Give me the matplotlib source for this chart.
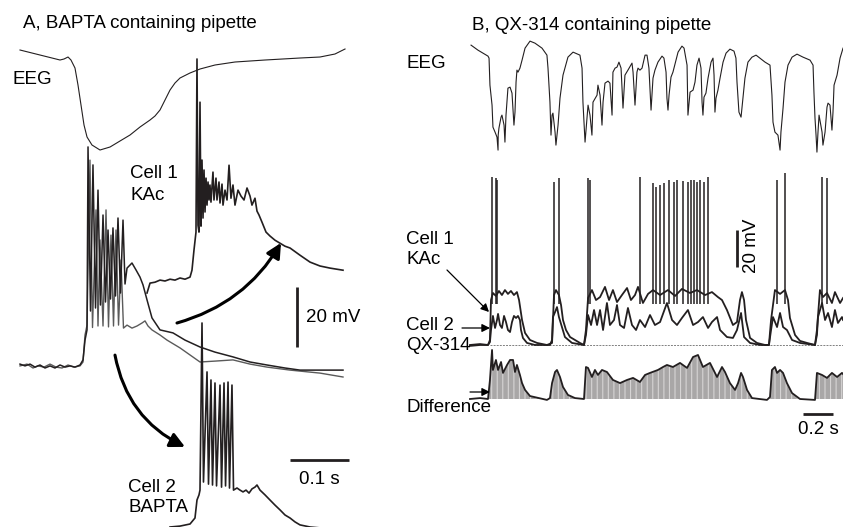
import numpy as np
import matplotlib.pyplot as plt
from matplotlib.patches import FancyArrowPatch

plt.rcParams['font.family'] = ['Liberation Sans', 'DejaVu Sans']
plt.rcParams['hatch.linewidth'] = 0.8

W, H = 843, 527
INK = '#231f20'

# ---------------- panel A : time in ms, cells in mV (rel. to rest), EEG in a.u.
a_eeg_t = [0, 33.9, 67.8, 74.6, 81.4, 86.4, 93.2, 98.3, 103.4, 108.5, 113.6, 122.0,
           135.6, 152.6, 169.5, 186.5, 203.4, 220.4, 228.8, 237.3, 245.8, 254.3, 262.7,
           271.2, 288.1, 305.1, 330.5, 364.4, 415.3, 474.6, 508.5, 533.9, 550.9]
a_eeg = [0, -5, -10, -9, -7, -10, -18, -35, -55, -75, -87, -95, -100, -97, -91, -85,
         -77, -70, -66, -60, -50, -40, -33, -28, -23, -19, -15, -12, -10, -8, -7, -4, 1]

a_cell1_t = [0, 8.5, 17.0, 25.4, 33.9, 42.4, 50.9, 59.3, 67.8, 76.3, 84.8, 93.2, 101.7,
             106.8, 110.2, 113.6, 115.3, 119.5, 123.7, 128.0, 132.2, 136.4, 140.7, 144.9,
             149.2, 153.4, 157.6, 161.9, 166.1, 170.3, 174.6, 178.0, 181.4, 189.8,
             196.6, 203.4, 208.5, 215.3, 223.7, 237.3, 259.3,
             279.7, 305.1, 330.5, 361.0, 389.9, 418.7, 449.2, 474.6, 508.5, 547.5]
a_cell1_v = [0.3, -0.3, 0.3, -0.7, 0, -1.0, -0.3, -1.0, 0, -0.7, -0.3, -0.7, 0,
             1.7, 8.3, 11.7, 72.7, 18.0, 66.7, 19.0, 58.3, 20.0, 50.0, 21.0,
             45.0, 22.0, 45.7, 23.0, 49.0, 24.0, 48.3, 27.0, 32.3, 34.0,
             31.7, 29.3, 26.7, 21.7, 15.7, 11.7, 10.7,
             8.3, 6.0, 4.3, 2.7, 1.0, 0, -1.0, -1.7, -1.7, -1.7]

a_cell2_t = [0, 11.9, 22.0, 30.5, 40.7, 50.9, 61.0, 71.2, 81.4, 91.5, 101.7, 106.8, 110.2,
             113.6, 118.6, 122.9, 128.8, 132.2, 135.6, 140.7, 145.8, 150.0, 154.2, 158.5,
             162.7, 167.0, 171.2, 175.4, 181.4, 189.8, 198.3,
             206.8, 211.9, 217.0, 223.7, 237.3, 249.2, 271.2, 305.1, 330.5, 361.0, 389.9,
             418.7, 457.7, 508.5, 547.5]
a_cell2_v = [-0.3, 0.3, -1.0, -0.3, -0.7, 0.3, -0.7, -1.0, 0, -0.7, -0.3, 1.0, 10.0,
             13.3, 68.3, 12.5, 51.7, 13.0, 41.7, 13.0, 51.7, 12.7, 43.3, 13.0,
             45.0, 13.3, 35.0, 12.3, 13.3, 12.3, 13.0,
             14.0, 14.7, 13.0, 11.7, 10.0, 8.3, 5.7, 1.0, 1.3, 1.7, 0.3,
             -0.7, -1.7, -2.7, -4.0]

# displaced copy of cell 1 (upper right)
a_copy1_t = [215.3, 220.4, 228.8, 237.3, 245.8, 254.3, 262.7, 271.2, 279.7, 288.2, 291.5,
             294.9, 298.3, 300.0, 301.7, 303.4, 305.1, 306.8, 308.5, 310.2, 311.9, 313.6,
             315.3, 317.0, 318.7, 320.4, 322.0, 323.7, 327.1, 328.8, 332.2, 333.9, 337.3,
             339.0, 342.4, 344.1, 347.5, 350.9, 354.3, 357.6, 361.0, 364.4, 369.5, 374.6,
             379.7, 384.8, 389.9, 393.2, 398.3, 401.7, 405.1, 410.2, 417.0, 423.7, 432.2,
             440.7, 449.2, 457.7, 474.6, 491.6, 508.5, 525.5, 547.5]
a_copy1_v = [-4.3, -1.0, -0.7, 0, -0.3, 0.3, 0, 0.7, 0.3, 1.0, 3.3,
             10.0, 16.0, 73.7, 18.3, 16.0, 59.3, 18.0, 40.0, 20.7, 36.7, 22.7,
             34.0, 25.0, 32.7, 26.7, 31.7, 26.0, 36.0, 26.7, 34.0, 26.7, 32.7,
             25.7, 32.0, 25.0, 30.0, 26.7, 38.3, 27.3, 31.7, 25.0, 30.0, 28.0,
             26.7, 30.7, 28.0, 25.0, 27.3, 23.0, 21.7, 19.3, 16.0, 14.7, 13.3,
             12.3, 11.3, 10.7, 8.3, 6.0, 4.7, 4.0, 3.3]

# displaced copy of cell 2 (bottom)
a_copy2_t = [254.3, 271.2, 288.2, 296.6, 300.0, 303.4, 305.1, 308.5, 311.0, 317.0, 319.5,
             323.7, 326.3, 330.5, 333.1, 339.0, 341.6, 345.8, 348.4, 352.6, 355.1, 359.3,
             361.9, 367.8, 372.9, 378.0, 383.1, 388.2, 393.2, 398.3, 401.7, 406.8, 415.3,
             423.7, 432.2, 440.7, 449.2, 457.7, 466.1, 474.6, 491.6, 508.5, 547.5]
a_copy2_v = [0, 0.3, 1.0, 3.0, 9.0, 10.7, 12.3, 68.0, 15.0, 51.7, 14.3,
             49.0, 14.0, 48.0, 13.7, 47.3, 13.3, 48.0, 13.7, 48.3, 13.0, 47.3,
             12.3, 13.0, 12.3, 11.7, 12.3, 11.3, 12.7, 13.3, 14.0, 12.3, 10.7,
             9.0, 7.3, 5.7, 4.0, 3.0, 1.7, 0.7, 0, -0.3, -0.3]

# ---------------- panel B : time in s
b_eeg_t = [0.007, 0.053, 0.120, 0.127, 0.133, 0.147, 0.153, 0.167, 0.180, 0.187, 0.188,
           0.193, 0.207, 0.213, 0.227, 0.233, 0.240, 0.253, 0.267, 0.280, 0.293, 0.300,
           0.307, 0.313, 0.320, 0.333, 0.347, 0.367, 0.400, 0.433, 0.480, 0.513, 0.520,
           0.533, 0.540, 0.547, 0.553, 0.567, 0.573, 0.587, 0.600, 0.620, 0.653, 0.687,
           0.733, 0.747, 0.753, 0.767, 0.780, 0.787, 0.800, 0.813, 0.820, 0.847, 0.853,
           0.867, 0.880, 0.887, 0.900, 0.920, 0.933, 0.947, 0.953, 0.967, 0.980, 0.993,
           1.007, 1.020, 1.033, 1.053, 1.080, 1.087, 1.100, 1.113, 1.120, 1.133, 1.147,
           1.167, 1.180, 1.193, 1.207, 1.220, 1.233, 1.253, 1.280, 1.293, 1.307, 1.313,
           1.320, 1.327, 1.340, 1.353, 1.373, 1.387, 1.413, 1.427, 1.447, 1.453, 1.467,
           1.487, 1.500, 1.513, 1.527, 1.540, 1.547, 1.553, 1.560, 1.573, 1.587, 1.607,
           1.620, 1.627, 1.633, 1.640, 1.653, 1.667, 1.687, 1.707, 1.733, 1.760, 1.773,
           1.780, 1.793, 1.807, 1.820, 1.833, 1.853, 1.880, 1.907, 1.933, 1.967, 2.000,
           2.013, 2.020, 2.033, 2.047, 2.053, 2.067, 2.073, 2.087, 2.100, 2.120, 2.147,
           2.180, 2.220, 2.267, 2.287, 2.293, 2.300, 2.307, 2.313, 2.320, 2.327, 2.333,
           2.347, 2.353, 2.367, 2.380, 2.387, 2.400, 2.413, 2.420, 2.427, 2.447, 2.467,
           2.487]
b_eeg = [0, -5, -11, -13, -40, -60, -82, -87, -92, -105, -90,
         -83, -72, -70, -80, -97, -70, -43, -42, -48, -80, -67,
         -37, -25, -27, -23, -15, -3, 4, 2, -3, -10, -23,
         -57, -90, -70, -68, -87, -100, -80, -53, -30, -12, -7,
         -10, -23, -57, -97, -73, -60, -70, -90, -57, -50, -40,
         -50, -80, -57, -38, -36, -38, -70, -27, -23, -22, -17,
         -23, -63, -30, -25, -18, -27, -60, -27, -23, -25, -23,
         -10, -10, -23, -65, -33, -25, -17, -11, -13, -27, -53,
         -65, -50, -32, -27, -15, -7, -1, -3, -20, -70, -47,
         -45, -37, -20, -13, -23, -57, -70, -52, -48, -33, -17,
         -13, -30, -67, -53, -45, -33, -17, -8, -4, -6, -13,
         -37, -67, -72, -53, -33, -17, -12, -10, -13, -17, -20,
         -50, -77, -87, -89, -90, -105, -87, -63, -37, -20, -12,
         -9, -12, -15, -20, -47, -73, -90, -107, -87, -70, -75,
         -87, -100, -87, -62, -58, -60, -85, -67, -40, -30, -13,
         -3]

b_cell1_t = [0.000, 0.067, 0.120, 0.133, 0.140, 0.153, 0.173, 0.193, 0.213, 0.233, 0.253,
             0.273, 0.293, 0.313, 0.327, 0.347, 0.367, 0.400, 0.447, 0.513, 0.547, 0.560,
             0.573, 0.593, 0.607, 0.620, 0.640, 0.667, 0.733, 0.760, 0.773, 0.787, 0.813,
             0.840, 0.867, 0.900, 0.927, 0.953, 0.980, 1.013, 1.047, 1.073, 1.100, 1.120,
             1.153, 1.187, 1.220, 1.267, 1.320, 1.367, 1.413, 1.467, 1.513, 1.567, 1.613,
             1.653, 1.680, 1.713, 1.753, 1.780, 1.800, 1.813, 1.827, 1.840, 1.867, 1.913,
             1.967, 1.993, 2.007, 2.033, 2.067, 2.100, 2.120, 2.133, 2.167, 2.200, 2.247,
             2.300, 2.313, 2.333, 2.353, 2.380, 2.413, 2.433, 2.467, 2.487]
b_cell1_v = [0, 0.5, 0, 2.7, 24.3, 28.1, 26.5, 29.2, 27.0, 29.7, 27.6,
             29.2, 27.0, 28.6, 24.3, 13.5, 6.5, 2.7, 1.1, 0, 1.1, 27.0,
             29.7, 27.0, 21.6, 13.5, 8.1, 4.3, 1.1, 0, 8.1, 25.4, 29.7,
             24.3, 25.9, 31.4, 24.3, 29.7, 23.2, 27.0, 30.8, 24.3, 27.0, 31.4,
             22.7, 27.6, 29.7, 27.0, 29.7, 26.5, 30.3, 28.1, 29.7, 27.0, 28.6,
             25.9, 24.3, 18.9, 10.8, 12.4, 24.3, 28.6, 24.3, 13.5, 3.8, 1.1,
             0, 0, 13.5, 29.7, 27.6, 29.7, 24.3, 14.6, 5.4, 2.2, 1.1,
             0, 8.1, 29.7, 25.9, 28.1, 22.7, 28.6, 22.7, 25.4]

b_cell2_t = [0.000, 0.067, 0.120, 0.133, 0.140, 0.153, 0.167, 0.180, 0.187, 0.200, 0.213,
             0.227, 0.240, 0.253, 0.267, 0.280, 0.293, 0.307, 0.320, 0.333, 0.340, 0.353,
             0.380, 0.433, 0.533, 0.547, 0.553, 0.567, 0.580, 0.593, 0.613, 0.633, 0.680,
             0.760, 0.773, 0.787, 0.807, 0.827, 0.847, 0.867, 0.887, 0.913, 0.933, 0.960,
             0.980, 1.000, 1.027, 1.053, 1.080, 1.107, 1.133, 1.167, 1.200, 1.233, 1.267,
             1.313, 1.347, 1.380, 1.413, 1.453, 1.487, 1.520, 1.553, 1.587, 1.613, 1.647,
             1.667, 1.713, 1.753, 1.780, 1.807, 1.827, 1.867, 1.933, 1.993, 2.007, 2.020,
             2.047, 2.067, 2.087, 2.113, 2.147, 2.200, 2.300, 2.313, 2.320, 2.347, 2.367,
             2.387, 2.413, 2.433, 2.453, 2.480, 2.487]
b_cell2_v = [-0.5, 0, 0, 1.6, 8.1, 15.7, 9.2, 13.5, 16.8, 10.8, 9.2,
             15.7, 12.4, 8.1, 7.0, 12.4, 15.7, 14.6, 15.7, 13.5, 8.1, 3.8,
             1.1, 0, 0, 2.7, 15.1, 17.8, 20.5, 15.1, 9.7, 4.3, 1.1,
             0, 5.4, 16.2, 10.8, 18.9, 10.8, 18.9, 8.1, 22.7, 10.8, 13.5,
             21.6, 10.8, 9.2, 20.0, 10.8, 8.1, 13.5, 9.7, 16.2, 10.8, 12.4,
             22.7, 13.5, 10.8, 14.6, 18.9, 10.8, 12.4, 15.1, 9.2, 12.4, 15.1,
             8.1, 4.3, 3.8, 8.1, 17.3, 4.3, 1.1, 0, 0, 8.1, 15.1,
             9.7, 17.3, 9.7, 8.1, 2.7, 1.1, 0, 5.4, 15.1, 22.7, 13.5,
             17.3, 9.7, 18.9, 11.9, 15.1, 13.5]

b_diff_t = [0.000, 0.067, 0.120, 0.133, 0.147, 0.153, 0.173, 0.187, 0.207, 0.220, 0.247,
            0.267, 0.287, 0.300, 0.313, 0.333, 0.347, 0.367, 0.400, 0.513, 0.533, 0.547,
            0.567, 0.580, 0.600, 0.620, 0.653, 0.700, 0.760, 0.773, 0.787, 0.813, 0.833,
            0.853, 0.880, 0.913, 0.953, 1.000, 1.047, 1.087, 1.133, 1.167, 1.200, 1.253,
            1.287, 1.313, 1.353, 1.400, 1.447, 1.487, 1.520, 1.553, 1.600, 1.647, 1.680,
            1.700, 1.733, 1.767, 1.787, 1.807, 1.820, 1.847, 1.880, 1.980, 2.000, 2.013,
            2.033, 2.047, 2.067, 2.087, 2.113, 2.147, 2.200, 2.300, 2.313, 2.347, 2.380,
            2.413, 2.447, 2.480, 2.487]
b_diff_v = [0, 0.5, 0, 10.3, 26.5, 15.7, 21.1, 15.7, 20.0, 14.1, 18.4,
            21.1, 21.1, 14.6, 18.4, 13.0, 8.6, 4.9, 1.6, -0.5, 0.5, 8.6,
            14.6, 15.7, 11.9, 6.5, 2.2, 0.5, 0, 17.3, 16.8, 11.9, 15.7,
            13.0, 15.7, 14.6, 10.3, 8.6, 10.3, 11.4, 9.2, 13.0, 14.1, 15.7,
            17.3, 18.4, 17.3, 19.5, 16.8, 22.7, 23.8, 17.3, 19.5, 11.9, 17.3,
            14.6, 8.6, 4.9, 8.6, 14.1, 11.9, 4.9, 0.5, -0.5, 1.1, 15.7,
            17.3, 14.1, 15.7, 14.1, 8.6, 3.2, 0, -0.5, 14.1, 13.0, 11.4,
            14.1, 11.9, 14.1, 13.5]

# action potentials of cell 1 (KAc)
b_spike_t = [0.147, 0.173, 0.180, 0.560, 0.593, 0.787, 0.800, 1.133, 1.220, 1.240,
             1.267, 1.293, 1.327, 1.360, 1.380, 1.420, 1.453, 1.473, 1.493, 1.513,
             1.533, 1.560, 1.587, 2.047, 2.100, 2.347, 2.380]
b_spike_peak = [90.8, 90.3, 89.2, 88.1, 90.3, 90.3, 89.2, 90.8, 87.6, 85.4,
                86.5, 87.6, 89.2, 88.1, 89.2, 88.6, 88.1, 89.2, 89.2, 88.1,
                89.2, 88.1, 90.8, 89.2, 93.0, 90.8, 90.3]

# ---------------- layout (offsets of traces, in axis units)
A_EEG_BASE, A_EEG_GAIN = 159.0, 1 / 3
A_REST, A_COPY1, A_COPY2 = 54.0, 82.3, 0.0
B_EEG_BASE, B_EEG_GAIN = 260.5, 1 / 1.85
B_REST, B_DIFF = 98.4, 69.2

fig = plt.figure(figsize=(W / 100, H / 100), dpi=100)
axA = fig.add_axes([0, 0, 420 / W, 1])
axB = fig.add_axes([420 / W, 0, 423 / W, 1])
for ax in (axA, axB):
    ax.axis('off')
axA.set_xlim(-33.9, 678.0)
axA.set_ylim(0, 175.67)
axB.set_xlim(-0.3333, 2.4867)
axB.set_ylim(0, 284.9)


def px(x, y):
    return x / W, 1 - y / H


def label(x, y, s, **kw):
    fig.text(*px(x, y), s, fontsize=13.5, color='black', va='center', **kw)


# ---- panel A
axA.plot(a_eeg_t, A_EEG_BASE + np.array(a_eeg) * A_EEG_GAIN, color=INK, lw=0.8)
axA.plot(a_cell2_t, A_REST + np.array(a_cell2_v), color='#5a5a5a', lw=1.0)
axA.plot(a_cell1_t, A_REST + np.array(a_cell1_v), color=INK, lw=1.1)
axA.plot(a_copy1_t, A_COPY1 + np.array(a_copy1_v), color=INK, lw=1.2)
axA.plot(a_copy2_t, A_COPY2 + np.array(a_copy2_v), color=INK, lw=1.2)

axA.vlines(469.5, 60, 80, color=INK, lw=2)
axA.hlines(22.3, 457.7, 557.7, color=INK, lw=2)

arrow = dict(arrowstyle='-|>', color='black', lw=2.2, mutation_scale=22,
             shrinkA=0, shrinkB=0)
axA.annotate('', xy=(442.4, 94.7), xytext=(266.1, 68.0),
             arrowprops=dict(arrow, connectionstyle='arc3,rad=0.2'))
axA.annotate('', xy=(279.7, 26.7), xytext=(161.0, 57.3),
             arrowprops=dict(arrow, connectionstyle='arc3,rad=0.25'))

label(23, 23, 'A, BAPTA containing pipette')
label(13, 80, 'EEG')
label(130, 174, 'Cell 1')
label(130, 196, 'KAc')
label(128, 487, 'Cell 2')
label(128, 508, 'BAPTA')
label(306, 317, '20 mV')
label(319, 479, '0.1 s', ha='center')

# ---- panel B
axB.plot(b_eeg_t, B_EEG_BASE + np.array(b_eeg) * B_EEG_GAIN, color=INK, lw=0.8)
axB.hlines(B_REST, 0.133, 2.49, color='#808080', lw=0.7, linestyles=(0, (2, 1.2)))
axB.vlines(b_spike_t, B_REST + 22, B_REST + np.array(b_spike_peak), color=INK, lw=1.1)
axB.plot(b_cell2_t, B_REST + np.array(b_cell2_v), color=INK, lw=1.3)
axB.plot(b_cell1_t, B_REST + np.array(b_cell1_v), color=INK, lw=1.3)

diff = B_DIFF + np.array(b_diff_v)
axB.fill_between(b_diff_t, B_DIFF, diff, facecolor='#a9a7a7', edgecolor='#d6d4d4',
                 hatch='|||', lw=0)
axB.plot(b_diff_t, diff, color=INK, lw=1.3)

axB.vlines(1.78, 140.5, 160.5, color=INK, lw=2)
axB.hlines(61.1, 2.22, 2.42, color=INK, lw=2)

thin = dict(arrowstyle='-|>', color='black', lw=0.9, mutation_scale=12,
            shrinkA=0, shrinkB=0)
for (x0, y0), (x1, y1) in [((447, 270), (489, 312)), ((462, 328), (490, 328)),
                           ((470, 392), (490, 392))]:
    fig.add_artist(FancyArrowPatch(px(x0, y0), px(x1, y1),
                                   transform=fig.transFigure, **thin))

label(472, 25, 'B, QX-314 containing pipette')
label(406, 64, 'EEG')
label(406, 239, 'Cell 1')
label(406, 259, 'KAc')
label(406, 325, 'Cell 2')
label(406, 345, 'QX-314')
label(406, 408, 'Difference')
label(751, 246, '20 mV', rotation=90, ha='center')
label(818, 430, '0.2 s', ha='center')

fig.savefig('out.png', dpi=100)
